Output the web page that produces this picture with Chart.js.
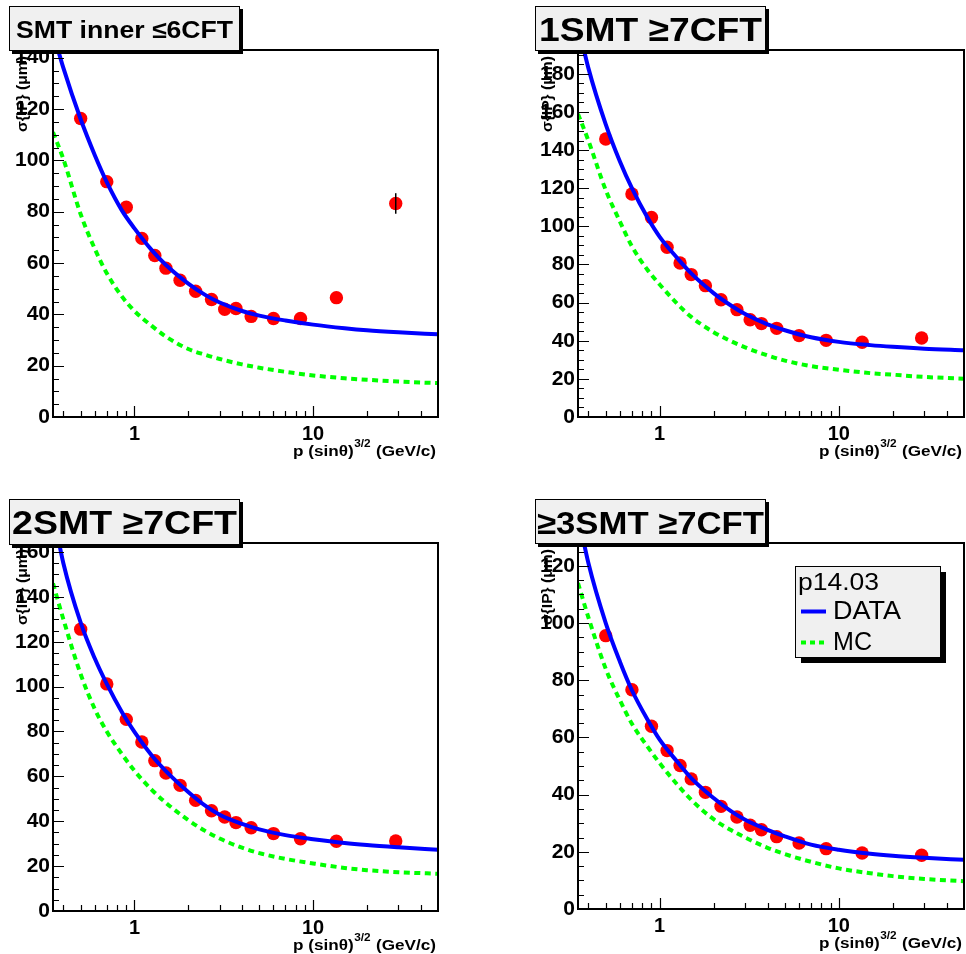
<!DOCTYPE html>
<html>
<head>
<meta charset="utf-8">
<title>IP resolution vs p (sin theta)^3/2</title>
<script src="https://cdn.jsdelivr.net/npm/chart.js@4.4.1/dist/chart.umd.min.js"></script>
<style>
  html, body { margin: 0; padding: 0; background: #fff; }
  #wrap { position: relative; width: 966px; height: 954px; }
  #wrap canvas { position: absolute; left: 0; top: 0; }
</style>
</head>
<body>
<div id="wrap">
  <canvas id="c1" width="966" height="954"></canvas>
  <canvas id="c2" width="966" height="954"></canvas>
  <canvas id="c3" width="966" height="954"></canvas>
  <canvas id="c4" width="966" height="954"></canvas>
</div>
<script>
// bin centres, p (sin theta)^3/2 in GeV/c
const binX = [0.5, 0.7, 0.9, 1.1, 1.3, 1.5, 1.8, 2.2, 2.7, 3.2, 3.7, 4.5, 6, 8.5, 13.5, 29];

// measured sigma(IP) in microns
const sigmaInner = [116.3, 91.7, 81.7, 69.6, 62.9, 58.0, 53.3, 49.0, 45.8, 42.0, 42.3, 39.2, 38.4, 38.4, 46.5, 83.2];
const errInner   = [0, 0, 0, 0, 0, 0, 0, 0, 0, 0, 0, 0, 0, 0, 0, 4];
const sigma1SMT  = [145.8, 117, 104.7, 89, 80.8, 74.7, 68.9, 61.5, 56.3, 51, 49, 46.5, 42.7, 40.2, 39.2, 41.4];
const sigma2SMT  = [125.6, 101.2, 85.4, 75.3, 67, 61.5, 56, 49.3, 44.7, 41.9, 39.4, 37.1, 34.5, 32.2, 31.1, 31.2];
const sigma3SMT  = [95.6, 76.7, 63.9, 55.4, 50.2, 45.5, 40.8, 35.9, 32.2, 29.3, 27.7, 25.3, 23.1, 21.1, 19.6, 18.8];

// fitted curves at these x values
const curveX = [0.35, 0.4, 0.5, 0.6, 0.7, 0.85, 1, 1.25, 1.5, 2, 2.5, 3, 4, 5, 7, 10, 15, 20, 30, 50];
const dataInner = [150, 136, 116, 102, 91.5, 80.5, 73.5, 65, 59.2, 52, 47.5, 44.6, 41.3, 39.5, 37.6, 36, 34.6, 33.8, 33, 32.2];
const mcInner   = [111, 100.5, 79, 65.5, 56, 47, 41.3, 35.5, 31.3, 26.5, 24.2, 22.6, 20.5, 19.2, 17.6, 16.2, 15.1, 14.5, 13.8, 13.2];
const data1SMT  = [206, 183, 153.5, 134, 120, 105, 94.5, 83.5, 75.3, 65, 58.5, 54, 48.6, 45.5, 41.8, 39.4, 37.7, 36.8, 35.8, 35];
const mc1SMT    = [159, 145, 119, 102.5, 89.5, 77.5, 69.5, 59.5, 52.5, 44.5, 39.8, 36.5, 32.3, 29.6, 26.7, 24.8, 23, 22.2, 21, 20.1];
const data2SMT  = [178, 155, 128.5, 112.5, 101.2, 88.7, 79.8, 69.3, 62.3, 53, 46.8, 42.9, 38.8, 36.4, 33.8, 32, 30.3, 29.4, 28.4, 27.3];
const mc2SMT    = [146, 130, 105.5, 90, 80, 70, 62.5, 54, 48.2, 40.5, 35.6, 32.3, 28.2, 25.8, 23.2, 21.2, 19.2, 18.2, 17.3, 16.6];
const data3SMT  = [138, 121, 100, 86.5, 76.5, 66.5, 59.2, 51.6, 45.8, 38.8, 34.2, 31.2, 27.7, 25.4, 22.5, 20.7, 19.3, 18.6, 17.9, 17.2];
const mc3SMT    = [114, 102, 84, 73, 64.8, 57, 51, 43.6, 38.2, 31.4, 27.6, 25, 21.4, 19.2, 16.5, 14.2, 12.5, 11.5, 10.5, 9.7];

// axis ticks
const xTicks = [0.4, 0.5, 0.6, 0.7, 0.8, 0.9, 1, 2, 3, 4, 5, 6, 7, 8, 9, 10, 20, 30, 40];
const xLabels = [1, 10];
const yMinorStep = 5;
const yMajorStep = 20;

const FONT = '"Liberation Sans", Arial, Helvetica, sans-serif';
Chart.defaults.font.family = FONT;
Chart.defaults.color = '#000';

const panels = [
  { id: 'c1', title: 'SMT inner \u22646CFT', sigma: sigmaInner, err: errInner, fit: dataInner, mc: mcInner,
    area: [53, 50, 438, 417], yMax: 143, box: [9, 6, 231, 45], titleSize: 24, titleWidth: 217, titleBase: 38 },
  { id: 'c2', title: '1SMT \u22657CFT', sigma: sigma1SMT, fit: data1SMT, mc: mc1SMT,
    area: [578, 50, 964, 417], yMax: 192.5, box: [535, 6, 231, 45], titleSize: 34, titleWidth: 223, titleBase: 41 },
  { id: 'c3', title: '2SMT \u22657CFT', sigma: sigma2SMT, fit: data2SMT, mc: mc2SMT,
    area: [53, 543, 438, 911], yMax: 164, box: [9, 499, 231, 46], titleSize: 33, titleWidth: 225, titleBase: 534 },
  { id: 'c4', title: '\u22653SMT \u22657CFT', sigma: sigma3SMT, fit: data3SMT, mc: mc3SMT, legend: 'p14.03',
    area: [578, 543, 964, 909], yMax: 128, box: [535, 499, 231, 45], titleSize: 32, titleWidth: 227, titleBase: 533.5 }
];

// draw text squeezed/stretched to a given width
function fitText(ctx, text, x, y, font, width, align) {
  ctx.save();
  ctx.font = font;
  const w = ctx.measureText(text).width;
  ctx.translate(x, y);
  ctx.scale(width / w, 1);
  ctx.textAlign = align || 'left';
  ctx.fillText(text, 0, 0);
  ctx.restore();
}

function rootStyle(p) {
  return {
    id: 'rootStyle',
    afterDatasetsDraw(chart) {
      if (!p.err) return;
      const ctx = chart.ctx, xs = chart.scales.x, ys = chart.scales.y;
      ctx.save();
      ctx.strokeStyle = '#000';
      ctx.lineWidth = 1.5;
      p.err.forEach((e, i) => {
        if (!e) return;
        const px = xs.getPixelForValue(binX[i]);
        ctx.beginPath();
        ctx.moveTo(px, ys.getPixelForValue(p.sigma[i] + e));
        ctx.lineTo(px, ys.getPixelForValue(p.sigma[i] - e));
        ctx.stroke();
      });
      ctx.restore();
    },
    afterDraw(chart) {
      const ctx = chart.ctx, ca = chart.chartArea;
      const xs = chart.scales.x, ys = chart.scales.y;
      ctx.save();
      ctx.fillStyle = '#000';
      ctx.strokeStyle = '#000';

      // frame
      ctx.lineWidth = 2;
      ctx.strokeRect(ca.left, ca.top, ca.right - ca.left, ca.bottom - ca.top);

      // tick marks, pointing inwards
      ctx.lineWidth = 1.2;
      ctx.beginPath();
      xs.ticks.forEach(t => {
        const px = Math.round(xs.getPixelForValue(t.value)) + 0.5;
        const len = xLabels.includes(t.value) ? 11 : 6;
        ctx.moveTo(px, ca.bottom);
        ctx.lineTo(px, ca.bottom - len);
      });
      ys.ticks.forEach(t => {
        const py = Math.round(ys.getPixelForValue(t.value)) + 0.5;
        const len = t.value % yMajorStep === 0 ? 11 : 6;
        ctx.moveTo(ca.left, py);
        ctx.lineTo(ca.left + len, py);
      });
      ctx.stroke();

      // x axis title with superscript
      const bigFont = 'bold 14.5px ' + FONT, supFont = 'bold 10px ' + FONT;
      const t1 = 'p (sin\u03b8)', t2 = '3/2', t3 = ' (GeV/c)';
      ctx.font = bigFont;
      const w1 = ctx.measureText(t1).width, w3 = ctx.measureText(t3).width;
      ctx.font = supFont;
      const w2 = ctx.measureText(t2).width + 1;
      const xw = 143;
      ctx.save();
      ctx.translate(ca.right - 2 - xw, ca.bottom + 38.5);
      ctx.scale(xw / (w1 + w2 + w3), 1);
      ctx.textAlign = 'left';
      ctx.font = bigFont;
      ctx.fillText(t1, 0, 0);
      ctx.fillText(t3, w1 + w2, 0);
      ctx.font = supFont;
      ctx.fillText(t2, w1 + 0.5, -9);
      ctx.restore();

      // y axis title, rotated
      ctx.save();
      ctx.translate(ca.left - 30, ca.top + 6);
      ctx.rotate(-Math.PI / 2);
      ctx.textBaseline = 'middle';
      fitText(ctx, '\u03c3{IP} (\u03bcm)', 0, 0, 'bold 15px ' + FONT, 76, 'right');
      ctx.restore();

      // title box with shadow
      const [bx, by, bw, bh] = p.box;
      ctx.fillStyle = '#000';
      ctx.fillRect(bx + 3, by + 3, bw, bh);
      ctx.fillStyle = '#f0f0f0';
      ctx.fillRect(bx, by, bw, bh);
      ctx.lineWidth = 1;
      ctx.strokeRect(bx + 0.5, by + 0.5, bw - 1, bh - 1);
      ctx.fillStyle = '#000';
      fitText(ctx, p.title, bx + bw / 2, p.titleBase, 'bold ' + p.titleSize + 'px ' + FONT, p.titleWidth, 'center');

      // legend
      if (p.legend) {
        const ds = chart.data.datasets;
        const lx = 795, ly = 566, lw = 145, lh = 91;
        ctx.fillStyle = '#000';
        ctx.fillRect(lx + 6, ly + 6, lw, lh);
        ctx.fillStyle = '#f0f0f0';
        ctx.fillRect(lx, ly, lw, lh);
        ctx.lineWidth = 1;
        ctx.strokeRect(lx + 0.5, ly + 0.5, lw, lh);
        ctx.fillStyle = '#000';
        fitText(ctx, p.legend, 798, 590, '24px ' + FONT, 81, 'left');
        fitText(ctx, ds[0].label, 833, 618.5, '25px ' + FONT, 68, 'left');
        fitText(ctx, ds[1].label, 833, 649.5, '25px ' + FONT, 39, 'left');
        ctx.lineWidth = 4;
        ctx.strokeStyle = ds[0].borderColor;
        ctx.beginPath(); ctx.moveTo(801, 611.5); ctx.lineTo(826, 611.5); ctx.stroke();
        ctx.strokeStyle = ds[1].borderColor;
        ctx.setLineDash([5, 4]);
        ctx.beginPath(); ctx.moveTo(801, 642.5); ctx.lineTo(826, 642.5); ctx.stroke();
        ctx.setLineDash([]);
      }
      ctx.restore();
    }
  };
}

function makeChart(p) {
  const [L, T, R, B] = p.area;
  return new Chart(document.getElementById(p.id), {
    type: 'line',
    data: {
      datasets: [
        {
          label: 'DATA',
          data: curveX.map((x, i) => ({ x: x, y: p.fit[i] })),
          borderColor: '#0000ff',
          borderWidth: 4,
          pointRadius: 0,
          cubicInterpolationMode: 'monotone',
          fill: false
        },
        {
          label: 'MC',
          data: curveX.map((x, i) => ({ x: x, y: p.mc[i] })),
          borderColor: '#00ff00',
          borderWidth: 4,
          borderDash: [6, 4.5],
          pointRadius: 0,
          cubicInterpolationMode: 'monotone',
          fill: false
        },
        {
          label: 'sigma',
          data: binX.map((x, i) => ({ x: x, y: p.sigma[i] })),
          showLine: false,
          pointRadius: 6.7,
          pointBorderWidth: 0,
          pointBackgroundColor: '#ff0000',
          borderColor: '#ff0000'
        }
      ]
    },
    options: {
      responsive: false,
      animation: false,
      devicePixelRatio: 1,
      events: [],
      layout: { autoPadding: false, padding: { left: 0, top: T, right: 966 - R, bottom: 0 } },
      plugins: { legend: { display: false }, tooltip: { enabled: false } },
      scales: {
        x: {
          type: 'logarithmic',
          min: 0.35,
          max: 50,
          grid: { display: false, drawTicks: false },
          border: { display: false },
          afterFit: s => { s.height = 954 - B; },
          afterBuildTicks: s => { s.ticks = xTicks.map(v => ({ value: v })); },
          ticks: {
            autoSkip: false, maxRotation: 0, padding: 5,
            font: { size: 20, weight: 'bold' }, color: '#000',
            callback: v => xLabels.includes(v) ? String(v) : ''
          }
        },
        y: {
          type: 'linear',
          min: 0,
          max: p.yMax,
          grid: { display: false, drawTicks: false },
          border: { display: false },
          afterFit: s => { s.width = L; },
          afterBuildTicks: s => {
            const t = [];
            for (let v = 0; v <= p.yMax; v += yMinorStep) t.push({ value: v });
            s.ticks = t;
          },
          ticks: {
            autoSkip: false, padding: 3,
            font: { size: 21, weight: 'bold' }, color: '#000',
            callback: v => v % yMajorStep === 0 ? String(v) : ''
          }
        }
      }
    },
    plugins: [rootStyle(p)]
  });
}

panels.forEach(makeChart);
</script>
</body>
</html>
